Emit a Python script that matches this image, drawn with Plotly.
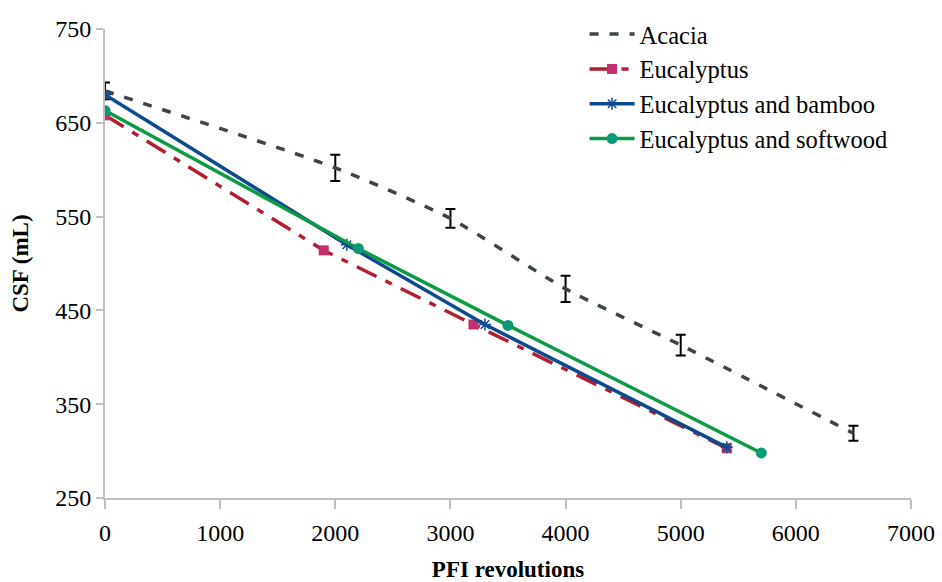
import plotly.graph_objects as go

# CSF vs PFI revolutions for four pulp furnishes
acacia_x = [0, 2000, 3000, 4000, 5000, 6500]
acacia_y = [684, 602, 548, 473, 413, 319]
acacia_err = [9, 14, 10, 14, 11, 8]

euc_x = [0, 1900, 3200, 5400]
euc_y = [658, 514, 435, 303]

bamboo_x = [0, 2100, 3300, 5400]
bamboo_y = [680, 520, 435, 304]

soft_x = [0, 2200, 3500, 5700]
soft_y = [663, 516, 434, 298]

x_ticks = [0, 1000, 2000, 3000, 4000, 5000, 6000, 7000]
y_ticks = [250, 350, 450, 550, 650, 750]

serif = "'Liberation Serif', 'Times New Roman', serif"

fig = go.Figure()

fig.add_trace(go.Scatter(
    x=acacia_x, y=acacia_y, name="Acacia", mode="lines",
    line=dict(color="#3d4547", width=3.5, dash="9px,11px", shape="spline", smoothing=0.6),
    error_y=dict(type="data", array=acacia_err, visible=True, color="black",
                 thickness=2, width=5),
))
fig.add_trace(go.Scatter(
    x=euc_x, y=euc_y, name="Eucalyptus", mode="lines+markers",
    line=dict(color="#b31e2f", width=3.5, dash="22px,10px,7px,10px"),
    marker=dict(symbol="square", size=10, color="#c2306e"),
))
fig.add_trace(go.Scatter(
    x=bamboo_x, y=bamboo_y, name="Eucalyptus and bamboo", mode="lines+markers",
    line=dict(color="#0d4a8e", width=3.5),
    marker=dict(symbol="asterisk-open", size=10, color="#0d4a8e", line=dict(width=1.5, color="#0d4a8e")),
))
fig.add_trace(go.Scatter(
    x=soft_x, y=soft_y, name="Eucalyptus and softwood", mode="lines+markers",
    line=dict(color="#0c9a45", width=3.5),
    marker=dict(symbol="circle", size=11, color="#0a9a78"),
))

fig.update_layout(
    width=942, height=582,
    margin=dict(l=105, r=31, t=22, b=84),
    paper_bgcolor="white", plot_bgcolor="white",
    font=dict(family=serif, color="black", size=20),
    showlegend=True,
    legend=dict(x=0.595, y=1.037, xanchor="left", yanchor="top",
                font=dict(family=serif, size=24.5, color="black"),
                bgcolor="rgba(0,0,0,0)", itemwidth=45, tracegroupgap=0),
    xaxis=dict(
        range=[0, 7000], tickvals=x_ticks, ticktext=[str(v) for v in x_ticks],
        showgrid=False, zeroline=False, showline=True, linecolor="#bfbfbf", linewidth=2,
        ticks="outside", ticklen=9, tickcolor="#bfbfbf", tickwidth=1.5,
        tickfont=dict(family=serif, size=24), automargin=False, ticklabelstandoff=3,
        title=dict(text="<b>PFI revolutions</b>", font=dict(family=serif, size=23), standoff=26),
    ),
    yaxis=dict(
        range=[250, 750], tickvals=y_ticks, ticktext=[str(v) for v in y_ticks],
        showgrid=False, zeroline=False, showline=True, linecolor="#bfbfbf", linewidth=2,
        ticks="outside", ticklen=7, tickcolor="#bfbfbf", tickwidth=1.5,
        tickfont=dict(family=serif, size=24), automargin=False,
        title=dict(text="<b>CSF (mL)</b>", font=dict(family=serif, size=23), standoff=20),
    ),
)

fig.write_html("out.html")
